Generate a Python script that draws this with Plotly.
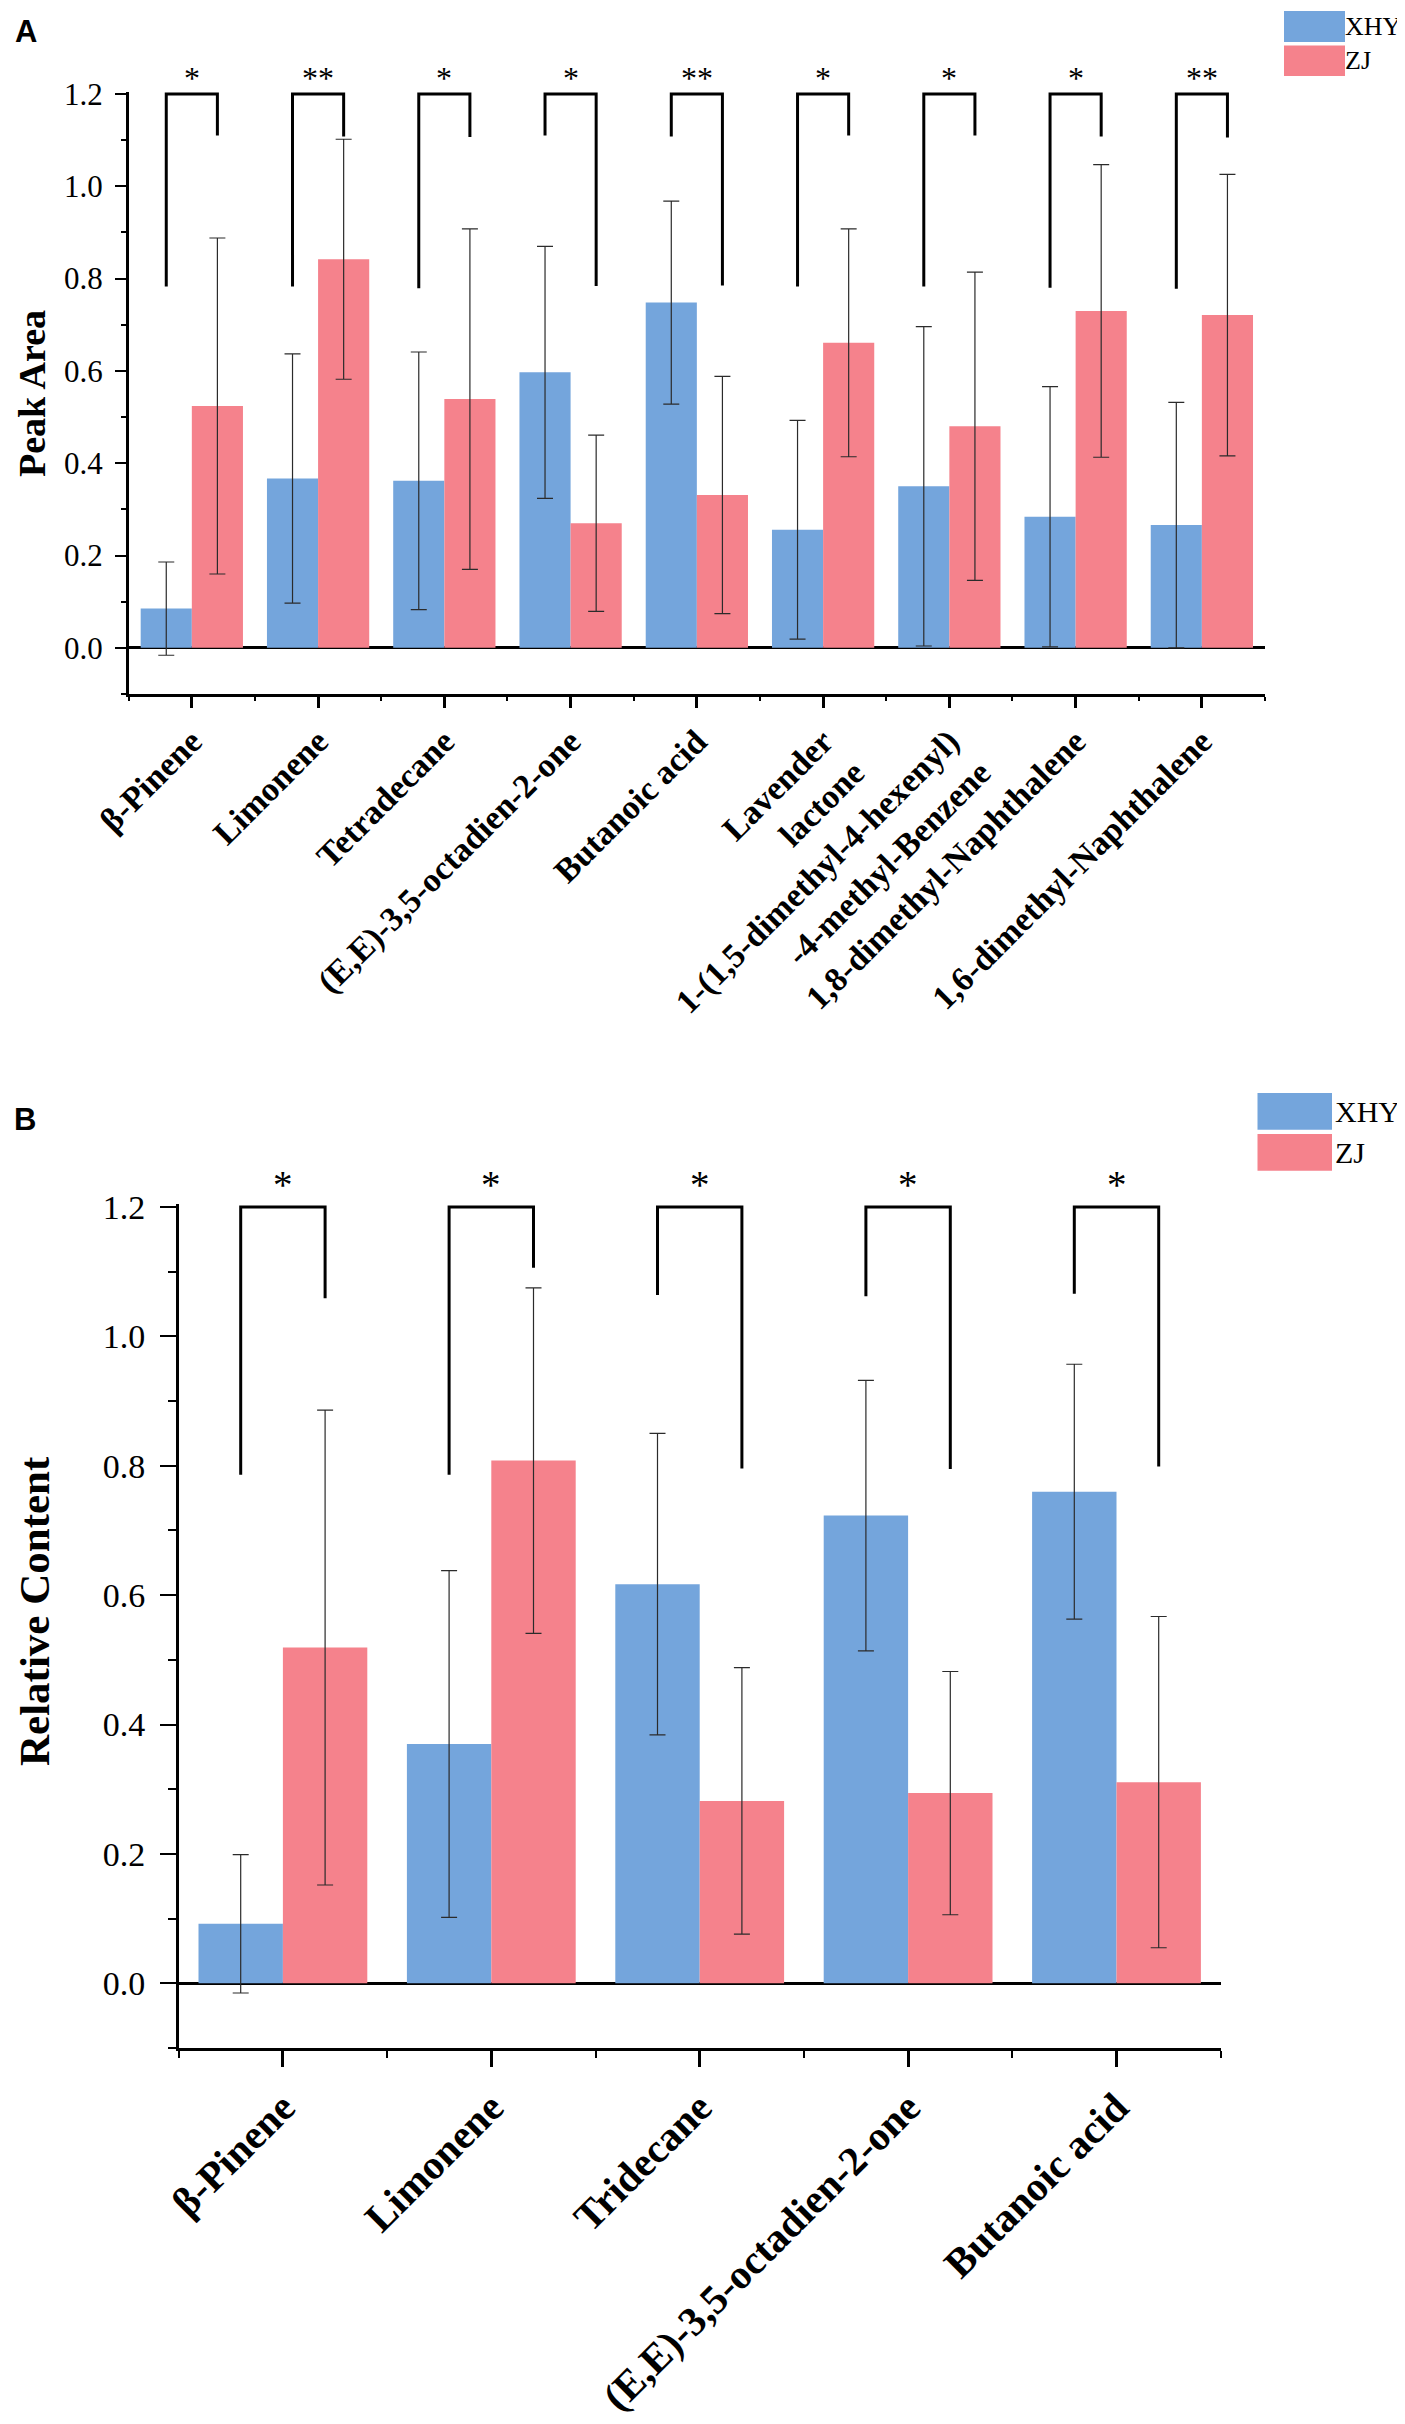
import plotly.graph_objects as go

# ---- panel A data (peak area) ----
cats_a = ["β-Pinene", "Limonene", "Tetradecane", "(E,E)-3,5-octadien-2-one",
          "Butanoic acid", "Lavender<br>lactone",
          "1-(1,5-dimethyl-4-hexenyl)<br>-4-methyl-Benzene",
          "1,8-dimethyl-Naphthalene", "1,6-dimethyl-Naphthalene"]
xhy_a = [0.085, 0.367, 0.362, 0.597, 0.748, 0.256, 0.350, 0.284, 0.266]
xhy_a_err = [0.101, 0.270, 0.279, 0.273, 0.220, 0.237, 0.346, 0.282, 0.266]
zj_a = [0.524, 0.842, 0.539, 0.270, 0.331, 0.661, 0.480, 0.730, 0.721]
zj_a_err = [0.364, 0.260, 0.369, 0.191, 0.257, 0.247, 0.334, 0.317, 0.305]
sig_a = ["*", "**", "*", "*", "**", "*", "*", "*", "**"]
leg_left_a = [0.783, 0.783, 0.779, 1.110, 1.108, 0.783, 0.783, 0.780, 0.778]
leg_right_a = [1.110, 1.108, 1.107, 0.784, 0.785, 1.110, 1.110, 1.108, 1.106]

# ---- panel B data (relative content) ----
cats_b = ["β-Pinene", "Limonene", "Tridecane", "(E,E)-3,5-octadien-2-one", "Butanoic acid"]
xhy_b = [0.092, 0.370, 0.617, 0.723, 0.760]
xhy_b_err = [0.107, 0.268, 0.233, 0.209, 0.197]
zj_b = [0.519, 0.808, 0.282, 0.294, 0.311]
zj_b_err = [0.367, 0.267, 0.206, 0.188, 0.256]
sig_b = ["*", "*", "*", "*", "*"]
leg_left_b = [0.786, 0.786, 1.064, 1.062, 1.066]
leg_right_b = [1.059, 1.106, 0.796, 0.795, 0.799]

bracket_top = 1.2
star_y = 1.235
Y_RANGE = [-0.1, 1.205]

BLUE = "#74A5DC"
PINK = "#F5828C"
SERIF = "Liberation Serif, Times New Roman, serif"
SANS = "Liberation Sans, Arial, sans-serif"

BARGAP = 0.19
half = (1 - BARGAP) / 4  # offset of each bar centre from category centre

fig = go.Figure()


def add_panel(cats, xhy, xhy_err, zj, zj_err, sig, left, right, xa, ya, star_size):
    idx = list(range(len(cats)))
    fig.add_trace(go.Bar(x=idx, y=xhy, name="XHY", marker_color=BLUE, marker_line_width=0,
                         error_y=dict(type="data", array=xhy_err, color="#2b2b2b",
                                      thickness=1.2, width=8),
                         xaxis=xa, yaxis=ya, showlegend=False))
    fig.add_trace(go.Bar(x=idx, y=zj, name="ZJ", marker_color=PINK, marker_line_width=0,
                         error_y=dict(type="data", array=zj_err, color="#2b2b2b",
                                      thickness=1.2, width=8),
                         xaxis=xa, yaxis=ya, showlegend=False))
    bx, by = [], []
    for i in idx:
        bx += [i - half, i - half, i + half, i + half, None]
        by += [left[i], bracket_top, bracket_top, right[i], None]
    fig.add_trace(go.Scatter(x=bx, y=by, mode="lines", line=dict(color="black", width=3),
                             xaxis=xa, yaxis=ya, showlegend=False, hoverinfo="skip"))
    # stars lie above the y range -> place them in axis-domain units so they stay visible
    yd = (star_y - Y_RANGE[0]) / (Y_RANGE[1] - Y_RANGE[0])
    yref = ya + " domain"
    for i in idx:
        fig.add_annotation(x=i, y=yd, xref=xa, yref=yref, text=sig[i], showarrow=False,
                           xanchor="center", yanchor="middle",
                           font=dict(family=SERIF, size=star_size, color="black"))


add_panel(cats_a, xhy_a, xhy_a_err, zj_a, zj_a_err, sig_a, leg_left_a, leg_right_a,
          "x", "y", 32)
add_panel(cats_b, xhy_b, xhy_b_err, zj_b, zj_b_err, sig_b, leg_left_b, leg_right_b,
          "x2", "y2", 39)


def xaxis_style(cats, domain, anchor, font_size, ticklen, minorlen):
    n = len(cats)
    return dict(domain=domain, anchor=anchor, range=[-0.5, n - 0.5], automargin=False,
                tickmode="array", tickvals=list(range(n)), ticktext=cats,
                tickangle=-45, ticks="outside", ticklen=ticklen, tickwidth=2.5,
                tickcolor="black", showline=True, linecolor="black", linewidth=3,
                showgrid=False, zeroline=False,
                minor=dict(ticks="outside", ticklen=minorlen, tickwidth=2,
                           tickcolor="black", tick0=-0.5, dtick=1, showgrid=False),
                tickfont=dict(family=SERIF, size=font_size, color="black", weight="bold"))


def yaxis_style(domain, anchor, font_size, ticklen, minorlen, standoff):
    return dict(domain=domain, anchor=anchor, range=Y_RANGE, automargin=False,
                tickmode="array", tickvals=[0, 0.2, 0.4, 0.6, 0.8, 1.0, 1.2],
                tickformat=".1f", ticks="outside", ticklen=ticklen, tickwidth=2,
                tickcolor="black", showline=True, linecolor="black", linewidth=2.5,
                showgrid=False, zeroline=True, zerolinecolor="black", zerolinewidth=3,
                minor=dict(ticks="outside", ticklen=minorlen, tickwidth=2,
                           tickcolor="black", tick0=0, dtick=0.1, showgrid=False),
                ticklabelstandoff=standoff,
                tickfont=dict(family=SERIF, size=font_size, color="black"))


W, H = 1405, 2424

fig.update_layout(
    template="none",
    width=W, height=H,
    margin=dict(l=0, r=0, t=0, b=0),
    paper_bgcolor="white", plot_bgcolor="white",
    barmode="group", bargap=BARGAP, bargroupgap=0,
    xaxis=xaxis_style(cats_a, [120.7 / W, 1257 / W], "y", 34, 11, 4),
    yaxis=yaxis_style([1 - 686 / H, 1 - 83.7 / H], "x", 31, 11, 5, 6),
    xaxis2=xaxis_style(cats_b, [170.7 / W, 1212.7 / W], "y2", 41, 16, 7),
    yaxis2=yaxis_style([1 - 2040 / H, 1 - 1195.8 / H], "x2", 34, 16, 8, 8),
)

# axis titles and panel letters
fig.add_annotation(text="<b>Peak Area</b>", textangle=-90, x=24 / W, y=1 - 386 / H,
                   xref="paper", yref="paper", xanchor="center", yanchor="middle",
                   showarrow=False, font=dict(family=SERIF, size=38, color="black"))
fig.add_annotation(text="<b>Relative Content</b>", textangle=-90, x=26 / W, y=1 - 1603 / H,
                   xref="paper", yref="paper", xanchor="center", yanchor="middle",
                   showarrow=False, font=dict(family=SERIF, size=43, color="black"))
fig.add_annotation(text="<b>A</b>", x=5 / W, y=1 - 4 / H, xref="paper", yref="paper",
                   xanchor="left", yanchor="top", showarrow=False,
                   font=dict(family=SANS, size=31, color="black"))
fig.add_annotation(text="<b>B</b>", x=4 / W, y=1 - 1092 / H, xref="paper", yref="paper",
                   xanchor="left", yanchor="top", showarrow=False,
                   font=dict(family=SANS, size=31, color="black"))

# legends drawn as patches + labels
legends = [
    # x0, x1, blue y0, blue y1, pink y0, pink y1, text x, font size
    (1276, 1337, 3, 34, 37.5, 68, 1335, 26),
    (1249.5, 1324, 1085, 1121.7, 1126, 1162.7, 1325, 30),
]
for x0, x1, b0, b1, p0, p1, tx, fs in legends:
    for (y0, y1, col, name) in [(b0, b1, BLUE, "XHY"), (p0, p1, PINK, "ZJ")]:
        fig.add_shape(type="rect", xref="paper", yref="paper",
                      x0=x0 / W, x1=x1 / W, y0=1 - y1 / H, y1=1 - y0 / H,
                      fillcolor=col, line_width=0)
        fig.add_annotation(text=name, x=tx / W, y=1 - (y0 + y1) / 2 / H,
                           xref="paper", yref="paper", xanchor="left", yanchor="middle",
                           showarrow=False, font=dict(family=SERIF, size=fs, color="black"))

fig.write_html("out.html")
